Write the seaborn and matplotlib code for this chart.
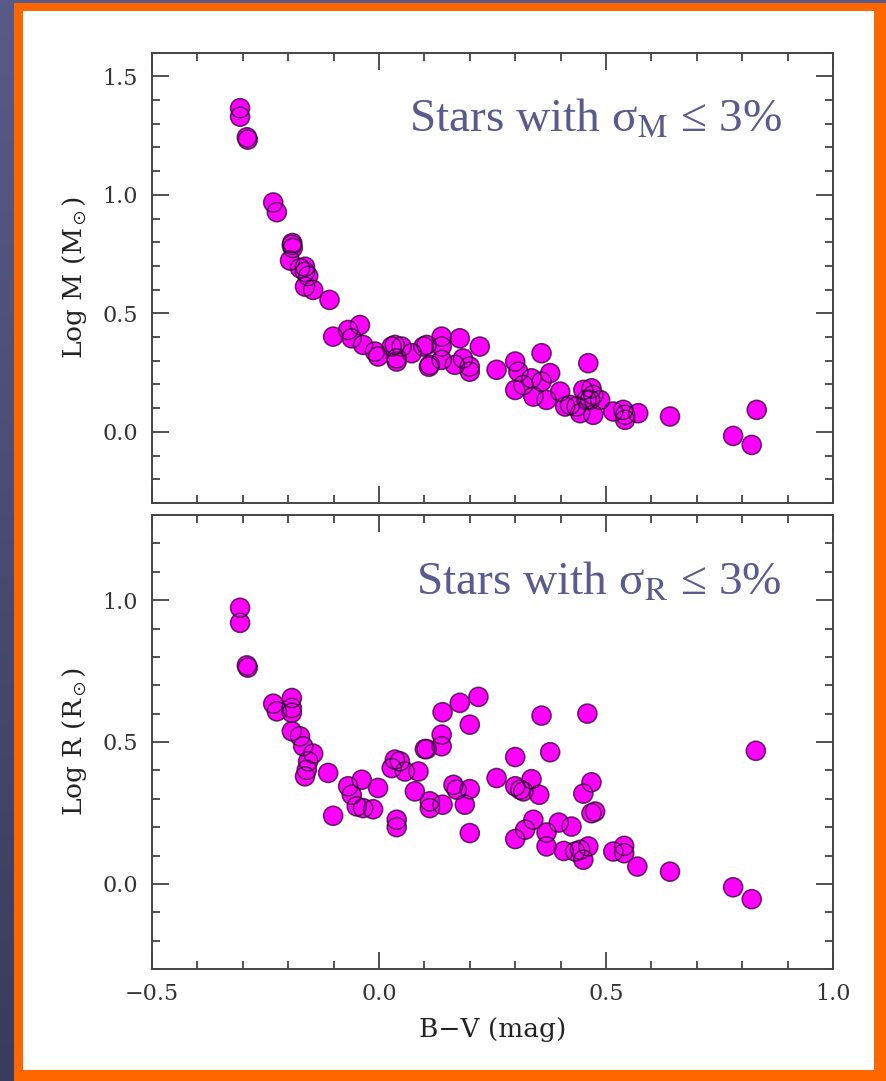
import numpy as np
import pandas as pd
import seaborn as sns
import matplotlib
matplotlib.use("Agg")
import matplotlib.pyplot as plt
from matplotlib.patches import Rectangle
from matplotlib.ticker import MultipleLocator, FixedLocator

# ---------------------------------------------------------------- data
# Upper panel: colour index vs. log mass
bv_mass = [-0.306, -0.306, -0.291, -0.289, -0.233, -0.225, -0.192, -0.190, -0.191,
           -0.196, -0.174, -0.163, -0.156, -0.163, -0.163, -0.145, -0.109, -0.101,
           -0.068, -0.042, -0.060, -0.035, -0.009, -0.002, 0.028, 0.035, 0.050,
           0.039, 0.039, 0.072, 0.098, 0.105, 0.112, 0.110, 0.138, 0.138, 0.138,
           0.167, 0.178, 0.185, 0.200, 0.200, 0.222, 0.259, 0.300, 0.307, 0.300,
           0.318, 0.336, 0.340, 0.358, 0.377, 0.358, 0.369, 0.399, 0.410, 0.421,
           0.435, 0.443, 0.472, 0.461, 0.450, 0.468, 0.472, 0.465, 0.487, 0.457,
           0.516, 0.538, 0.542, 0.542, 0.571, 0.641, 0.780, 0.821, 0.832]
log_mass = [1.366, 1.330, 1.243, 1.233, 0.968, 0.927, 0.789, 0.776, 0.797,
            0.723, 0.691, 0.697, 0.658, 0.675, 0.613, 0.599, 0.557, 0.402,
            0.430, 0.451, 0.395, 0.367, 0.339, 0.318, 0.360, 0.367, 0.360,
            0.297, 0.310, 0.332, 0.360, 0.367, 0.283, 0.275, 0.402, 0.360, 0.304,
            0.283, 0.395, 0.310, 0.276, 0.254, 0.360, 0.262, 0.297, 0.254, 0.177,
            0.198, 0.226, 0.149, 0.332, 0.248, 0.212, 0.135, 0.170, 0.107, 0.114,
            0.107, 0.079, 0.072, 0.290, 0.177, 0.184, 0.156, 0.135, 0.135, 0.135,
            0.086, 0.093, 0.051, 0.072, 0.079, 0.065, -0.017, -0.055, 0.093]

# Lower panel: colour index vs. log radius
bv_radius = [-0.306, -0.306, -0.291, -0.289, -0.233, -0.225, -0.192, -0.192, -0.192,
             -0.192, -0.174, -0.167, -0.145, -0.156, -0.159, -0.163, -0.112, -0.101,
             -0.068, -0.060, -0.038, -0.049, -0.035, -0.013, -0.002, 0.035, 0.028,
             0.046, 0.057, 0.087, 0.039, 0.039, 0.079, 0.101, 0.105, 0.112, 0.112,
             0.140, 0.138, 0.138, 0.140, 0.178, 0.219, 0.200, 0.164, 0.171, 0.200,
             0.189, 0.200, 0.259, 0.358, 0.459, 0.377, 0.300, 0.300, 0.318, 0.336,
             0.311, 0.353, 0.340, 0.322, 0.300, 0.369, 0.369, 0.396, 0.424, 0.407,
             0.432, 0.450, 0.461, 0.443, 0.468, 0.450, 0.476, 0.468, 0.516, 0.540,
             0.540, 0.569, 0.641, 0.780, 0.821, 0.830]
log_radius = [0.973, 0.920, 0.770, 0.762, 0.635, 0.608, 0.655, 0.620, 0.603,
              0.538, 0.520, 0.485, 0.459, 0.432, 0.402, 0.379, 0.391, 0.240,
              0.344, 0.314, 0.367, 0.273, 0.267, 0.263, 0.338, 0.438, 0.408,
              0.432, 0.396, 0.396, 0.226, 0.200, 0.326, 0.475, 0.475, 0.291, 0.267,
              0.279, 0.526, 0.485, 0.605, 0.638, 0.659, 0.561, 0.349, 0.332, 0.334,
              0.279, 0.179, 0.373, 0.593, 0.600, 0.464, 0.447, 0.344, 0.326, 0.369,
              0.332, 0.314, 0.226, 0.191, 0.158, 0.181, 0.132, 0.216, 0.202, 0.116,
              0.114, 0.085, 0.132, 0.120, 0.358, 0.318, 0.255, 0.249, 0.114, 0.134,
              0.108, 0.061, 0.043, -0.012, -0.054, 0.469]

x_ticks = [-0.5, 0.0, 0.5, 1.0]
x_ticklabels = ["\u22120.5", "0.0", "0.5", "1.0"]
mass_ticks = [0.0, 0.5, 1.0, 1.5]
radius_ticks = [0.0, 0.5, 1.0]

# ---------------------------------------------------------------- style
sns.set_style("ticks")
plt.rcParams["font.family"] = ["DejaVu Serif", "DejaVu Sans"]
plt.rcParams["mathtext.fontset"] = "stix"

W, H, DPI = 887, 1081, 100
fig = plt.figure(figsize=(W / DPI, H / DPI), dpi=DPI)

# slide-style frame: dark blue gradient, orange border, white card
bg = fig.add_axes([0, 0, 1, 1], zorder=-10)
grad = np.linspace(0, 1, 256).reshape(-1, 1)
top_c = np.array([88, 91, 136]) / 255
bot_c = np.array([58, 60, 92]) / 255
img = top_c[None, None, :] * (1 - grad[:, :, None]) + bot_c[None, None, :] * grad[:, :, None]
bg.imshow(img, extent=[0, W, 0, H], aspect="auto", origin="upper")
bg.add_patch(Rectangle((14, 0), W - 14, H - 3, facecolor="#ff6600", edgecolor="none"))
bg.add_patch(Rectangle((23, 11), 874 - 23, H - 11 - 11, facecolor="white", edgecolor="none"))
bg.set_xlim(0, W)
bg.set_ylim(0, H)
bg.axis("off")

ax_m = fig.add_axes([152 / W, (H - 503) / H, 681 / W, 450.3 / H])
ax_r = fig.add_axes([152 / W, (H - 969) / H, 681 / W, 454 / H])

mass_df = pd.DataFrame({"bv": bv_mass, "val": log_mass})
radius_df = pd.DataFrame({"bv": bv_radius, "val": log_radius})

FILL = "#ff00ff"
EDGE = "#2b002b"
SIZE = 190

for ax, df in [(ax_m, mass_df), (ax_r, radius_df)]:
    # filled discs first, outlines afterwards so every rim stays visible
    sns.scatterplot(data=df, x="bv", y="val", ax=ax, s=SIZE, color=FILL,
                    edgecolor="none", linewidth=0, zorder=3)
    sns.scatterplot(data=df, x="bv", y="val", ax=ax, s=SIZE, facecolors="none",
                    edgecolors=EDGE, linewidth=1.1, alpha=0.75, zorder=4)

ax_m.set_ylim(-0.3, 1.6)
ax_r.set_ylim(-0.3, 1.3)

TICK_C = "#333333"
for ax, yt in [(ax_m, mass_ticks), (ax_r, radius_ticks)]:
    ax.set_xlim(-0.5, 1.0)
    ax.xaxis.set_major_locator(FixedLocator(x_ticks))
    ax.xaxis.set_minor_locator(MultipleLocator(0.1))
    ax.yaxis.set_major_locator(FixedLocator(yt))
    ax.yaxis.set_minor_locator(MultipleLocator(0.1))
    ax.set_yticklabels([f"{v:.1f}" for v in yt])
    ax.tick_params(which="both", direction="in", top=True, right=True,
                   color=TICK_C, width=1.2, labelsize=16, labelcolor=TICK_C, pad=10)
    ax.tick_params(which="major", length=12)
    ax.tick_params(which="minor", length=6)
    for sp in ax.spines.values():
        sp.set_color("#444444")
        sp.set_linewidth(1.4)
    ax.set_facecolor("none")

ax_m.set_xticklabels([])
ax_m.set_xlabel("")
ax_r.set_xticklabels(x_ticklabels)

ax_m.set_ylabel(r"Log M (M$_\odot$)", fontsize=19, color="#222222")
ax_r.set_ylabel(r"Log R (R$_\odot$)", fontsize=19, color="#222222")
ax_m.yaxis.set_label_coords(-0.092, 0.5)
ax_r.yaxis.set_label_coords(-0.092, 0.5)
ax_r.set_xlabel("B\u2212V (mag)", fontsize=19, color="#222222")
ax_r.xaxis.set_label_coords(0.5, -0.105)

NOTE_C = "#5a5a8c"
ax_m.text(0.925, 0.824, r"Stars with σ$_\mathrm{M}$ ≤ 3%", transform=ax_m.transAxes,
          ha="right", va="baseline", fontsize=34, color=NOTE_C,
          family=["Liberation Serif", "DejaVu Serif"])
ax_r.text(0.925, 0.824, r"Stars with σ$_\mathrm{R}$ ≤ 3%", transform=ax_r.transAxes,
          ha="right", va="baseline", fontsize=34, color=NOTE_C,
          family=["Liberation Serif", "DejaVu Serif"])

fig.savefig("out.png", dpi=DPI)
